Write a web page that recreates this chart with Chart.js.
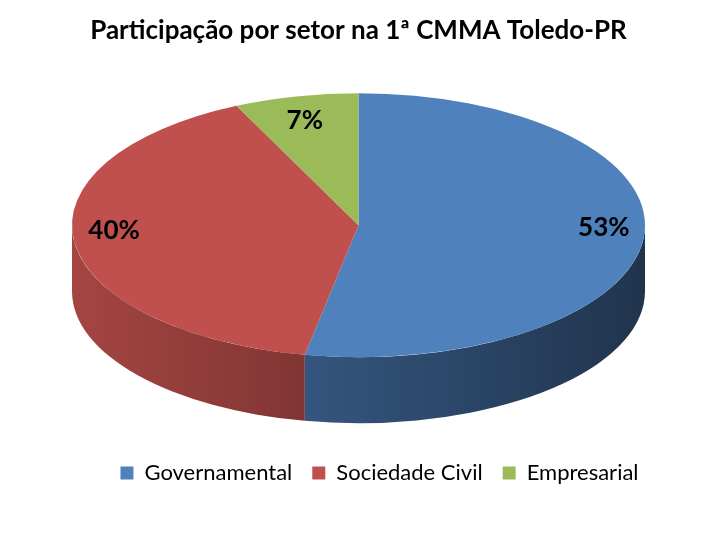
<!DOCTYPE html>
<html>
<head>
<meta charset="utf-8">
<script src="https://cdn.jsdelivr.net/npm/chart.js@4"></script>
<style>
  html, body { margin: 0; padding: 0; background: #fff; }
  #wrap { width: 720px; height: 535px; }
</style>
</head>
<body>
<div id="wrap"><canvas id="grafico"></canvas></div>
<script>
const setores = ['Governamental', 'Sociedade Civil', 'Empresarial'];
const participacao = [53, 40, 7];
const cores = ['#4F81BD', '#C0504D', '#9BBB59'];

// escurece uma cor hex por um fator
function shade(hex, f) {
    const n = parseInt(hex.slice(1), 16);
    const r = Math.round(((n >> 16) & 255) * f);
    const g = Math.round(((n >> 8) & 255) * f);
    const b = Math.round((n & 255) * f);
    return 'rgb(' + r + ',' + g + ',' + b + ')';
}

// elipse do topo e espessura do "disco"
function geom(area) {
    const rx = (area.right - area.left) / 2;
    const ry = 132;
    return { cx: area.left + rx, cy: area.top + ry, rx: rx, ry: ry, depth: 66 };
}

const pie3d = {
    id: 'pie3d',
    afterLayout(chart) {
        // legenda do original fica um pouco a direita do centro da pizza
        chart.legend.left += 21;
        chart.legend.right += 21;
    },
    beforeDatasetsDraw(chart) {
        const ctx = chart.ctx;
        const g = geom(chart.chartArea);
        const arcs = chart.getDatasetMeta(0).data;

        // laterais visiveis (metade de baixo)
        arcs.forEach((arc, i) => {
            const a1 = Math.max(arc.startAngle, 0);
            const a2 = Math.min(arc.endAngle, Math.PI);
            if (a2 <= a1) return;
            const cor = cores[i];
            const grad = ctx.createLinearGradient(g.cx - g.rx, 0, g.cx + g.rx, 0);
            grad.addColorStop(0, shade(cor, 0.86));
            grad.addColorStop(0.4, shade(cor, 0.67));
            grad.addColorStop(1, shade(cor, 0.4));
            ctx.save();
            ctx.beginPath();
            ctx.ellipse(g.cx, g.cy, g.rx, g.ry, 0, a1, a2);
            ctx.lineTo(g.cx + g.rx * Math.cos(a2), g.cy + g.depth + g.ry * Math.sin(a2));
            ctx.ellipse(g.cx, g.cy + g.depth, g.rx, g.ry, 0, a2, a1, true);
            ctx.closePath();
            ctx.fillStyle = grad;
            ctx.fill();
            ctx.restore();
        });

        // achata o topo da pizza em elipse
        const R = arcs[0].outerRadius;
        ctx.save();
        ctx.translate(g.cx, g.cy);
        ctx.scale(g.rx / R, g.ry / R);
        ctx.translate(-arcs[0].x, -arcs[0].y);
    },
    afterDatasetsDraw(chart) {
        const ctx = chart.ctx;
        ctx.restore();
        const g = geom(chart.chartArea);
        const arcs = chart.getDatasetMeta(0).data;
        const total = participacao.reduce((a, b) => a + b, 0);
        ctx.save();
        ctx.font = 'bold 26px Lato';
        ctx.fillStyle = '#000';
        ctx.textAlign = 'center';
        ctx.textBaseline = 'middle';
        arcs.forEach((arc, i) => {
            const mid = (arc.startAngle + arc.endAngle) / 2;
            const x = g.cx + 0.86 * g.rx * Math.cos(mid);
            const y = g.cy - 7 + 0.76 * g.ry * Math.sin(mid);
            ctx.fillText(Math.round(participacao[i] / total * 100) + '%', x, y);
        });
        ctx.restore();
    }
};

const ctx = document.getElementById('grafico').getContext('2d');

new Chart(ctx, {
    type: 'pie',
    data: {
        labels: setores,
        datasets: [{
            data: participacao,
            backgroundColor: cores,
            borderWidth: 0,
            clip: false
        }]
    },
    options: {
        responsive: true,
        maintainAspectRatio: false,
        animation: false,
        events: [],
        layout: {
            padding: { top: 0, left: 72, right: 75, bottom: 41 }
        },
        plugins: {
            title: {
                display: true,
                text: 'Participação por setor na 1ª CMMA Toledo-PR',
                color: '#000',
                font: { family: 'Lato', size: 26, weight: 'bold' },
                padding: { top: 15, bottom: 47 }
            },
            legend: {
                position: 'bottom',
                labels: {
                    color: '#000',
                    font: { family: 'Lato', size: 22 },
                    boxWidth: 13,
                    boxHeight: 13,
                    padding: 20
                }
            },
            tooltip: { enabled: false }
        }
    },
    plugins: [pie3d]
});
</script>
</body>
</html>
